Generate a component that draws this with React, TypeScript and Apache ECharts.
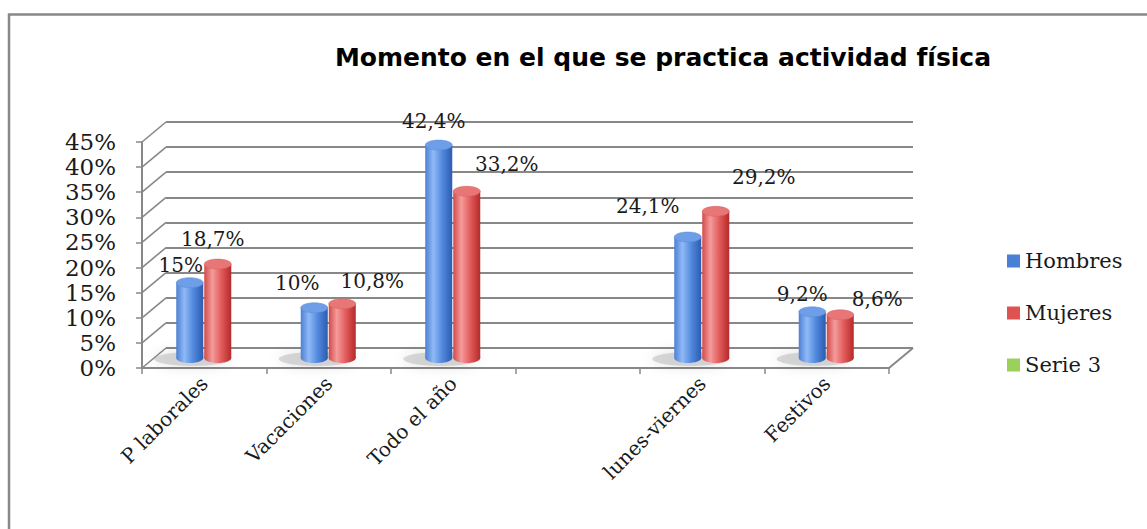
import React, { useEffect, useRef } from "react";
import * as echarts from "echarts";

const titleText = "Momento en el que se practica actividad física";
const categories = ["P laborales", "Vacaciones", "Todo el año", "", "lunes-viernes", "Festivos"];
const seriesNames = ["Hombres", "Mujeres", "Serie 3"];
const hombres: (number | null)[] = [15, 10, 42.4, null, 24.1, 9.2];
const mujeres: (number | null)[] = [18.7, 10.8, 33.2, null, 29.2, 8.6];
const serie3: (number | null)[] = [];
const yTicks = [0, 5, 10, 15, 20, 25, 30, 35, 40, 45];

// label offsets (style only) relative to the top-centre of each cylinder
const nudgeH: [number, number][] = [[-9, -18], [-17, -25], [-5, -24], [0, 0], [-40, -31], [-10, -18]];
const nudgeM: [number, number][] = [[-5, -25], [30, -23], [40, -27], [0, 0], [48, -34], [37, -16]];

const DX = 24;
const DY = 20;
const BAR_W = 27;
const LIFT = 10;
const RY = 5;
const SERIF = '"DejaVu Serif", serif';
const GRID_COLOR = "#888888";

const fmt = (v: number) => String(v).replace(".", ",") + "%";

const blueGrad = () =>
  new echarts.graphic.LinearGradient(0, 0, 1, 0, [
    { offset: 0, color: "#4d7fd4" },
    { offset: 0.3, color: "#8fbaf6" },
    { offset: 0.65, color: "#4f86dc" },
    { offset: 1, color: "#2c5cb0" },
  ]);
const redGrad = () =>
  new echarts.graphic.LinearGradient(0, 0, 1, 0, [
    { offset: 0, color: "#d24a4a" },
    { offset: 0.3, color: "#f59b9b" },
    { offset: 0.65, color: "#e05858" },
    { offset: 1, color: "#b52a2a" },
  ]);

function barRenderer(which: 0 | 1) {
  return (params: any, api: any) => {
    const v = api.value(1);
    if (v == null || isNaN(v)) return null;
    const idx = api.value(0);
    const p0 = api.coord([idx, 0]);
    const pv = api.coord([idx, v]);
    const cx = p0[0];
    const base = p0[1] - LIFT;
    const top = base - (p0[1] - pv[1]);
    const x = which === 0 ? cx - BAR_W - 1 : cx;
    const mid = x + BAR_W / 2;
    const grad = which === 0 ? blueGrad() : redGrad();
    const topFill = which === 0 ? "#6f9ee8" : "#e87676";
    const nudge = (which === 0 ? nudgeH : nudgeM)[idx] || [0, -20];
    return {
      type: "group",
      children: [
        { type: "ellipse", shape: { cx: mid, cy: base, rx: BAR_W / 2, ry: RY }, style: { fill: grad } },
        { type: "rect", shape: { x, y: top, width: BAR_W, height: base - top }, style: { fill: grad } },
        {
          type: "ellipse",
          shape: { cx: mid, cy: top, rx: BAR_W / 2, ry: RY },
          style: { fill: topFill, stroke: which === 0 ? "#5a8ad8" : "#d86060", lineWidth: 0.5 },
        },
        {
          type: "text",
          style: {
            text: fmt(v),
            x: mid + nudge[0],
            y: top + nudge[1],
            align: "center",
            verticalAlign: "middle",
            font: `20px ${SERIF}`,
            fill: "#1a1a1a",
          },
        },
      ],
    };
  };
}

export default function App() {
  const ref = useRef<HTMLDivElement>(null);
  useEffect(() => {
    if (!ref.current) return;
    const chart = echarts.init(ref.current, undefined, { renderer: "svg" });

    const shadowData = categories
      .map((_, i) => [i, Math.max(hombres[i] ?? -1, mujeres[i] ?? -1)])
      .filter((d) => d[1] >= 0);

    chart.setOption({
      animation: false,
      backgroundColor: "#ffffff",
      graphic: [
        {
          type: "rect",
          shape: { x: 9, y: 14.5, width: 1300, height: 700 },
          style: { fill: "none", stroke: "#888888", lineWidth: 2.5 },
          z: 100,
        },
        {
          type: "text",
          x: 663,
          y: 57,
          style: {
            text: titleText,
            font: 'bold 25px "DejaVu Sans", sans-serif',
            fill: "#000",
            align: "center",
            verticalAlign: "middle",
          },
        },
      ],
      legend: {
        orient: "vertical",
        left: 1002,
        top: 245,
        itemWidth: 13,
        itemHeight: 13,
        itemGap: 30,
        icon: "rect",
        data: seriesNames,
        textStyle: { fontFamily: SERIF, fontSize: 21, color: "#1a1a1a", lineHeight: 22 },
        selectedMode: false,
      },
      grid: [
        { left: 166, right: 234, top: 122, bottom: 181 },
        { left: 142, right: 258, top: 142, bottom: 161 },
      ],
      xAxis: [
        {
          type: "category",
          gridIndex: 0,
          data: categories,
          axisLine: { show: false },
          axisTick: { show: false },
          axisLabel: { show: false },
          splitLine: { show: false },
        },
        {
          type: "category",
          gridIndex: 1,
          data: categories,
          axisLine: { show: true, lineStyle: { color: GRID_COLOR, width: 2 } },
          axisTick: { show: true, interval: 0, length: 6, lineStyle: { color: GRID_COLOR, width: 1.5 } },
          axisLabel: {
            interval: 0,
            rotate: 45,
            margin: 12,
            fontFamily: "DejaVu Serif",
            fontSize: 20,
            color: "#1a1a1a",
          },
        },
      ],
      yAxis: [
        {
          type: "value",
          gridIndex: 0,
          min: 0,
          max: 45,
          interval: 5,
          axisLine: { show: false },
          axisTick: { show: false },
          axisLabel: { show: false },
          splitLine: { show: true, lineStyle: { color: GRID_COLOR, width: 2 } },
        },
        {
          type: "value",
          gridIndex: 1,
          min: 0,
          max: 45,
          interval: 5,
          axisLine: { show: true, lineStyle: { color: GRID_COLOR, width: 2 } },
          axisTick: { show: true, length: 6, lineStyle: { color: GRID_COLOR, width: 1.5 } },
          axisLabel: { formatter: "{value}%", margin: 26, fontFamily: "DejaVu Serif", fontSize: 23, color: "#1a1a1a" },
          splitLine: { show: false },
        },
      ],
      series: [
        {
          name: "walls",
          type: "custom",
          xAxisIndex: 0,
          yAxisIndex: 0,
          silent: true,
          data: yTicks.map((t) => [0, t]),
          renderItem: (params: any, api: any) => {
            const cs = params.coordSys;
            const y = api.coord([0, api.value(1)])[1];
            const children: any[] = [
              {
                type: "line",
                shape: { x1: cs.x - DX, y1: y + DY, x2: cs.x, y2: y },
                style: { stroke: GRID_COLOR, lineWidth: 1.6 },
              },
            ];
            if (api.value(1) === 0) {
              children.push({
                type: "line",
                shape: { x1: cs.x + cs.width - DX, y1: y + DY, x2: cs.x + cs.width, y2: y },
                style: { stroke: GRID_COLOR, lineWidth: 2 },
              });
            }
            return { type: "group", children };
          },
        },
        {
          name: "shadows",
          type: "custom",
          xAxisIndex: 1,
          yAxisIndex: 1,
          silent: true,
          data: shadowData,
          renderItem: (params: any, api: any) => {
            const p0 = api.coord([api.value(0), 0]);
            return {
              type: "ellipse",
              shape: { cx: p0[0] - 12, cy: p0[1] - LIFT + 1, rx: 38, ry: 7 },
              style: {
                fill: "rgba(150,150,150,0.35)",
                shadowBlur: 14,
                shadowColor: "rgba(0,0,0,0.35)",
              },
            };
          },
        },
        {
          name: seriesNames[0],
          type: "custom",
          xAxisIndex: 1,
          yAxisIndex: 1,
          itemStyle: { color: "#4a7fd6" },
          data: hombres.map((v, i) => [i, v]),
          renderItem: barRenderer(0),
        },
        {
          name: seriesNames[1],
          type: "custom",
          xAxisIndex: 1,
          yAxisIndex: 1,
          itemStyle: { color: "#e05252" },
          data: mujeres.map((v, i) => [i, v]),
          renderItem: barRenderer(1),
        },
        {
          name: seriesNames[2],
          type: "custom",
          xAxisIndex: 1,
          yAxisIndex: 1,
          itemStyle: { color: "#9bd05a" },
          data: serie3.map((v, i) => [i, v]),
          renderItem: () => null,
        },
      ],
    });
    return () => chart.dispose();
  }, []);

  return (
    <div
      ref={ref}
      style={{ position: "fixed", left: 0, top: 0, width: 1147, height: 529, background: "#fff" }}
    />
  );
}
